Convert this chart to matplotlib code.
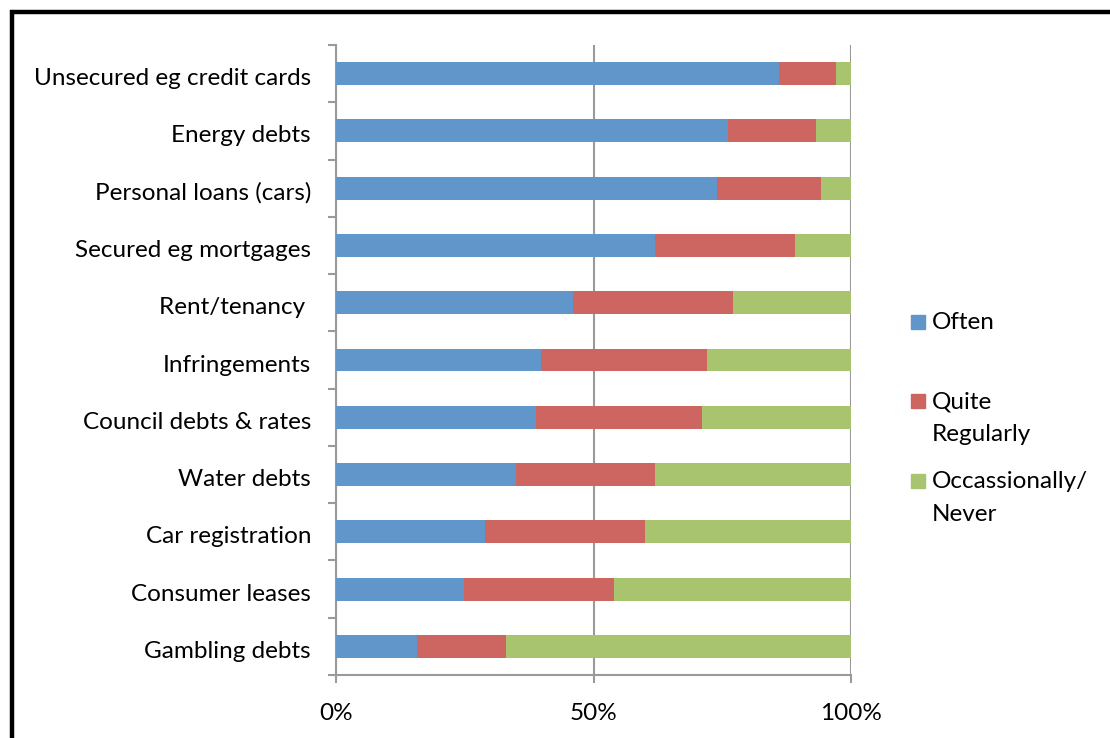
import matplotlib.pyplot as plt
from matplotlib import patches, transforms

# 100% stacked bar chart of debt types and how often they come up

categories = ["Unsecured eg credit cards", "Energy debts", "Personal loans (cars)",
              "Secured eg mortgages", "Rent/tenancy ", "Infringements",
              "Council debts & rates", "Water debts", "Car registration",
              "Consumer leases", "Gambling debts"]
often = [86.0, 76.1, 74.0, 61.9, 46.0, 39.8, 38.8, 35.0, 28.9, 24.9, 15.7]
quite_regularly = [11.1, 17.1, 20.2, 27.2, 31.1, 32.2, 32.3, 26.9, 31.1, 29.1, 17.3]
occasionally = [2.9, 6.8, 5.8, 10.9, 22.9, 28.0, 28.9, 38.1, 40.0, 46.0, 67.0]
series_names = ["Often", "Quite\nRegularly", "Occassionally/\nNever"]
colors = ["#6096CA", "#CD6660", "#A9C46E"]
xticks = [0, 50, 100]
xtick_labels = ["0%", "50%", "100%"]

plt.rcParams['font.family'] = ['Lato', 'DejaVu Sans']

fig = plt.figure(figsize=(11.1, 7.38), dpi=100)
ax = fig.add_axes([336 / 1110, 1 - 675 / 738, 515 / 1110, 630 / 738])

# outer black frame (runs off the right and bottom edges)
fig.add_artist(patches.Rectangle((11.5 / 1110, -0.1), 1.2, 1 - 11.5 / 738 + 0.1,
                                 transform=fig.transFigure, fill=False,
                                 ec="black", lw=3.2, clip_on=False))

y = list(range(len(categories)))
left = [0] * len(categories)
for vals, name, col in zip([often, quite_regularly, occasionally], series_names, colors):
    ax.barh(y, vals, left=left, height=0.4, color=col, label=name, zorder=3)
    left = [a + b for a, b in zip(left, vals)]

ax.set_xlim(0, 100)
ax.set_ylim(len(categories) - 0.5, -0.5)
ax.set_yticks(y)
ax.set_yticklabels(categories, fontsize=17.5)
ax.set_yticks([i - 0.5 for i in range(len(categories) + 1)], minor=True)
ax.tick_params(axis='y', which='major', length=0, pad=18)
ax.tick_params(axis='y', which='minor', length=6, width=1.5, color="#9a9a9a")
# nudge the category labels down a little, like the original
shift = transforms.ScaledTranslation(0, -3 / 100, fig.dpi_scale_trans)
for lab in ax.get_yticklabels():
    lab.set_transform(lab.get_transform() + shift)
ax.set_xticks(xticks)
ax.set_xticklabels(xtick_labels, fontsize=17.5)
ax.tick_params(axis='x', length=6, width=1.5, color="#9a9a9a", pad=14)

ax.grid(axis='x', color="#9a9a9a", lw=1.5, zorder=0)
for s in ["top", "right"]:
    ax.spines[s].set_visible(False)
for s in ["left", "bottom"]:
    ax.spines[s].set_color("#9a9a9a")
    ax.spines[s].set_linewidth(1.5)

# legend, with swatches aligned to the first line of each label
legend_rows = [322, 401, 481]
for name, col, yy in zip(series_names, colors, legend_rows):
    fig.add_artist(patches.Rectangle((911 / 1110, 1 - (yy + 7) / 738), 14 / 1110, 14 / 738,
                                     transform=fig.transFigure, color=col))
    fig.text(932 / 1110, 1 - (yy - 10) / 738, name, fontsize=17.5, va='top',
             ha='left', linespacing=1.7)

fig.savefig("out.png", dpi=100)
